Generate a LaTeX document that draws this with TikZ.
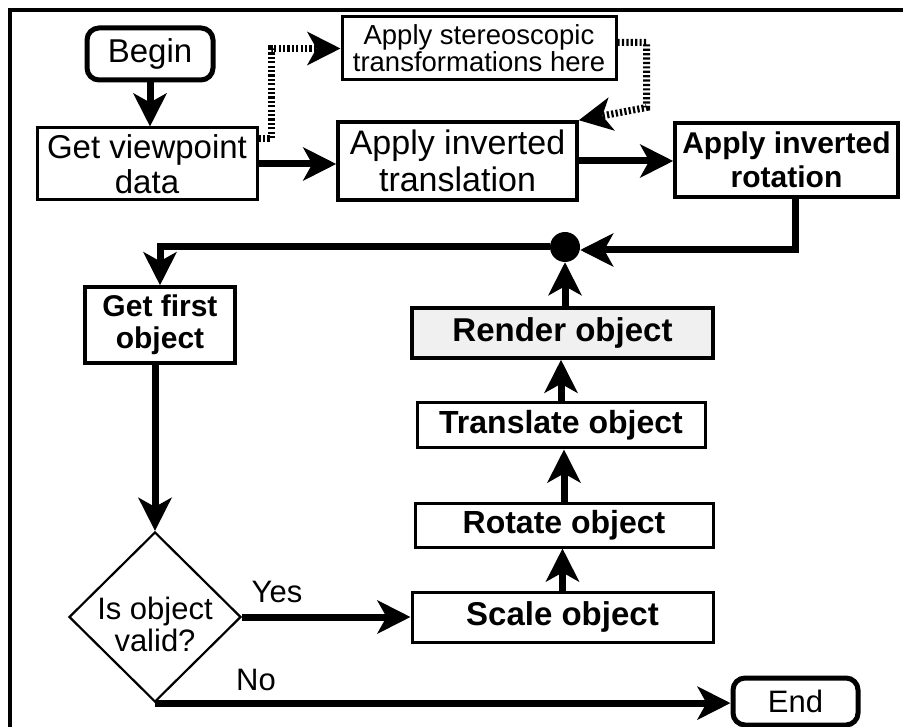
\documentclass[tikz,border=0pt]{standalone}
\usepackage{fontspec}
\setmainfont{Liberation Sans}
\usetikzlibrary{arrows.meta,shapes.geometric}
\begin{document}
\begin{tikzpicture}[x=1pt,y=-1pt,
  box/.style={draw,line width=3.5pt,inner sep=0pt,align=center},
  rbox/.style={box,rounded corners=12pt,line width=5pt},
  arr/.style={line width=7pt,-{Stealth[length=33pt,width=33pt,inset=9pt]}},
  dotarr/.style={arr,dash pattern=on 2.2pt off 2.2pt},
  lbl/.style={inner sep=0pt,font=\fontsize{31}{33}\selectfont}
]
\useasboundingbox (0,0) rectangle (903,727);
\draw[line width=3.3pt] (10,727) -- (10,10) -- (903,10);

% nodes
\node[rbox,minimum width=126pt,minimum height=52pt,font=\fontsize{33}{36}\selectfont] (begin) at (150,54) {Begin};
\node[box,line width=3pt,minimum width=220pt,minimum height=72pt,font=\fontsize{33}{35}\selectfont] (getvp) at (147,164) {Get viewpoint\\data};
\node[box,line width=3pt,minimum width=274pt,minimum height=63pt,font=\fontsize{27.5}{27}\selectfont] (stereo) at (479,48.5) {Apply stereoscopic\\transformations here};
\node[box,minimum width=239pt,minimum height=78pt,font=\fontsize{34}{37}\selectfont] (trans) at (457.5,161) {Apply inverted\\translation};
\node[box,minimum width=223pt,minimum height=74pt,font=\bfseries\fontsize{30}{34}\selectfont] (rot) at (786.5,160) {Apply inverted\\rotation};
\node[circle,fill=black,inner sep=0pt,minimum size=30pt] (dot) at (565,247) {};
\node[box,minimum width=150pt,minimum height=76pt,font=\bfseries\fontsize{30}{32}\selectfont] (first) at (160,325) {Get first\\object};
\node[box,fill=black!6,minimum width=301pt,minimum height=50pt,font=\bfseries\fontsize{33}{36}\selectfont] (render) at (562.5,333) {Render object};
\node[box,line width=3pt,minimum width=288pt,minimum height=45pt,font=\bfseries\fontsize{32}{36}\selectfont] (tobj) at (561,425.5) {Translate object};
\node[box,line width=3pt,minimum width=298pt,minimum height=44pt,font=\bfseries\fontsize{32}{36}\selectfont] (robj) at (564,525) {Rotate object};
\node[box,line width=3pt,minimum width=301pt,minimum height=50pt,font=\bfseries\fontsize{33}{36}\selectfont] (sobj) at (562.5,617) {Scale object};
\node[diamond,draw,line width=2.2pt,aspect=1,inner sep=0pt,minimum width=172pt,minimum height=170pt] (dec) at (155,617) {};
\node[inner sep=0pt,align=center,font=\fontsize{31}{32}\selectfont] (dectext) at (155,624) {Is object\\valid?};
\node[rbox,minimum width=125pt,minimum height=47pt,font=\fontsize{31}{34}\selectfont] (end) at (795.5,701.5) {End};
\node[lbl] (yes) at (277,592) {Yes};
\node[lbl] (no) at (256,680) {No};

% connectors
\draw[arr] (begin.south) -- (begin.south |- getvp.north);
\draw[arr] (getvp.east) -- (getvp.east -| trans.west);
\draw[arr] (trans.east) -- (trans.east -| rot.west);
\draw[dotarr] ([yshift=-12pt]getvp.north east) -- ++(13,0) |- (stereo.west);
\draw[dotarr] ([yshift=6pt]stereo.east) -- ++(29,0) -- ++(0,65) -- (trans.north east);
\draw[arr] ([xshift=8.5pt]rot.south) |- ([yshift=-3pt]dot.east);
\draw[arr] (dot.west) -| (first.north);
\draw[arr] (dot.south |- render.north) -- (dot.south);
\draw[arr] (tobj.north) -- (tobj.north |- render.south);
\draw[arr] (robj.north) -- (robj.north |- tobj.south);
\draw[arr] (sobj.north) -- (sobj.north |- robj.south);
\draw[arr] (dec.north |- first.south) -- (dec.north);
\draw[arr] (dec.east) -- (dec.east -| sobj.west);
\draw[arr] (dec.south) -- (dec.south -| end.west);
\end{tikzpicture}
\end{document}
